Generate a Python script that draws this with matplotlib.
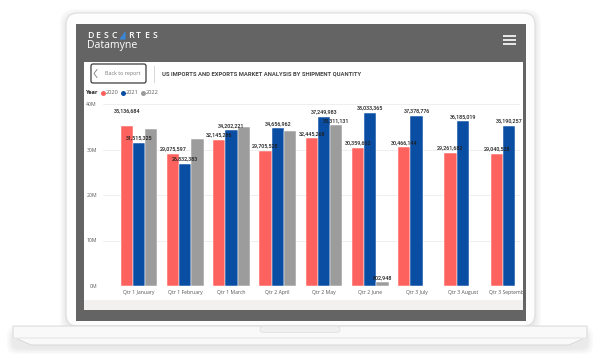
import matplotlib
matplotlib.use("Agg")
import numpy as np
import matplotlib.pyplot as plt
from matplotlib.patches import FancyBboxPatch, Rectangle, Polygon

# --- chart data -------------------------------------------------------------
categories = ["Qtr 1 January", "Qtr 1 February", "Qtr 1 March", "Qtr 2 April",
              "Qtr 2 May", "Qtr 2 June", "Qtr 3 July", "Qtr 3 August",
              "Qtr 3 September"]
years = ["2020", "2021", "2022"]
qty_2020 = [35136684, 29075597, 32145286, 29705528, 32445268, 30359602,
            30466144, 29261682, 29040538]
qty_2021 = [31515325, 26832383, 34202221, 34656962, 37249983, 38033365,
            37378776, 36185019, 35190257]
qty_2022 = [34600000, 32400000, 34900000, 34100000, 35311131, 802948,
            np.nan, np.nan, np.nan]
# which 2022 values carry a data label in the report
label_2022 = [False, False, False, False, True, True, False, False, False]
y_ticks = [0, 10e6, 20e6, 30e6, 40e6]

colors = ["#FD625E", "#0A4EA3", "#9C9C9C"]
FONT = ["Open Sans", "DejaVu Sans"]
NUMFONT = ["Roboto", "DejaVu Sans"]

W, H = 600, 363
fig = plt.figure(figsize=(W / 100, H / 100), dpi=100)
fig.patch.set_facecolor("white")

# pixel-space canvas for the laptop mockup
bg = fig.add_axes([0, 0, 1, 1], zorder=0)
bg.set_xlim(0, W)
bg.set_ylim(H, 0)
bg.axis("off")

# soft shadow around the lid and base
for i, a in enumerate([0.018, 0.018, 0.02, 0.025]):
    g = 6 - i * 1.5
    bg.add_patch(FancyBboxPatch((66 - g, 13 - g + 2), 469 + 2 * g, 313 + 2 * g,
                                boxstyle="round,pad=0,rounding_size=14",
                                fc="black", ec="none", alpha=a))
    bg.add_patch(FancyBboxPatch((13 - g, 330 - g + 3), 574 + 2 * g, 15 + 2 * g,
                                boxstyle="round,pad=0,rounding_size=8",
                                fc="black", ec="none", alpha=a))

# lid / bezel
bg.add_patch(FancyBboxPatch((66, 13), 469, 313,
                            boxstyle="round,pad=0,rounding_size=12",
                            fc="#FDFDFD", ec="#DEDEDE", lw=0.8))
# base
bg.add_patch(Polygon([(13, 326), (587, 326), (587, 337), (569, 345),
                      (31, 345), (13, 337)], closed=True,
                     fc="#F9F9F9", ec="#D8D8D8", lw=0.7))
bg.plot([14, 586], [338, 338], color="#ECECEC", lw=1.2)
bg.add_patch(FancyBboxPatch((260, 326), 80, 6.5,
                            boxstyle="round,pad=0,rounding_size=3",
                            fc="#F0F0F0", ec="#E2E2E2", lw=0.6))

# screen
bg.add_patch(Rectangle((76, 24), 450, 297, fc="#646464", ec="none"))
bg.add_patch(Rectangle((84, 62), 439, 238, fc="white", ec="none"))
bg.add_patch(Rectangle((84, 300), 439, 10, fc="#F2F1F0", ec="none"))

# header logo
letters = "DESC RTES"
for i, ch in enumerate(letters):
    x = 87 + i * 8.2
    if ch == " ":
        bg.add_patch(Polygon([(x - 0.5, 39.5), (x + 5.2, 31.5), (x + 5.8, 31.5),
                              (x + 5.8, 39.5)], closed=True, fc="#3A86D6",
                             ec="none"))
    else:
        bg.text(x, 35.6, ch, color="white", fontsize=6.3, family=FONT,
                weight="semibold", ha="left", va="center")
bg.text(86.5, 45.5, "Datamyne", color="white", fontsize=7.6, family=FONT,
        ha="left", va="center")
for yy in (35.5, 39.5, 43.5):
    bg.plot([503, 516], [yy, yy], color="white", lw=1.2,
            solid_capstyle="butt")

# back button, separator and title
bg.add_patch(FancyBboxPatch((91, 64), 55, 19,
                            boxstyle="round,pad=0,rounding_size=2",
                            fc="white", ec="#3C3C3C", lw=0.9))
bg.plot([97, 94, 97], [69.5, 73.5, 77.5], color="#7A7A7A", lw=0.6)
bg.text(105, 74, "Back to report", color="#7A7A7A", fontsize=3.9,
        family=FONT, ha="left", va="center")
bg.plot([154, 154], [66, 82], color="#D2D2D2", lw=0.6)
bg.text(162, 74.3, "US IMPORTS AND EXPORTS MARKET ANALYSIS BY SHIPMENT QUANTITY",
        color="#444444", fontsize=4.2, weight="bold", family=NUMFONT,
        ha="left", va="center")

# legend
bg.text(86, 93, "Year", color="#252423", fontsize=4.1, weight="bold",
        family=FONT, ha="left", va="center")
for i, (yr, c) in enumerate(zip(years, colors)):
    cx = 102.7 + i * 20
    bg.plot([cx], [93], marker="o", ms=3.6, color=c, mec="none")
    bg.text(cx + 3.2, 93, yr, color="#605E5C", fontsize=4.1, family=FONT,
            ha="left", va="center")

# --- the chart --------------------------------------------------------------
ax = fig.add_axes([103 / W, (H - 286) / H, 417 / W, 182 / H], zorder=1)
ax.set_facecolor("none")
x = np.arange(len(categories))
bw = 0.266
series = [qty_2020, qty_2021, qty_2022]
for k, (vals, c) in enumerate(zip(series, colors)):
    vals = np.array(vals, dtype=float)
    ax.bar(x + (k - 1) * bw, np.nan_to_num(vals), width=bw, color=c,
           edgecolor="white", linewidth=0.35, zorder=2)

# data labels (Power BI lifts the Jan 2020 label to avoid a collision)
lift = {(0, 0): 7.5}
for k, vals in enumerate(series):
    for i, v in enumerate(vals):
        if np.isnan(v) or (k == 2 and not label_2022[i]):
            continue
        ax.annotate(f"{int(v):,}", (x[i] + (k - 1) * bw, v),
                    xytext=(0, 1.6 + lift.get((k, i), 0)),
                    textcoords="offset points", ha="center", va="bottom",
                    fontsize=3.9, color="#1E1E1E", family=NUMFONT,
                    weight="medium", zorder=4)

ax.set_xlim(-0.778, 8.238)
ax.set_ylim(0, 40e6)
ax.set_yticks(y_ticks)
ax.set_yticklabels([f"{int(t / 1e6)}M" for t in y_ticks])
ax.set_xticks(x)
ax.set_xticklabels(categories)
ax.yaxis.grid(True, color="#EDEDED", lw=0.6)
ax.set_axisbelow(True)
for s in ax.spines.values():
    s.set_visible(False)
ax.tick_params(axis="both", length=0, labelsize=3.7, colors="#555555")
ax.tick_params(axis="y", pad=4.3)
ax.tick_params(axis="x", pad=2.6)
for lbl in ax.get_xticklabels() + ax.get_yticklabels():
    lbl.set_family(FONT)

# cover the part of the report that runs past the screen edge
fg = fig.add_axes([0, 0, 1, 1], zorder=5)
fg.set_xlim(0, W)
fg.set_ylim(H, 0)
fg.axis("off")
fg.patch.set_alpha(0)
fg.add_patch(Rectangle((523, 286), 3, 14, fc="#646464", ec="none"))
fg.add_patch(Rectangle((526, 286), 8, 14, fc="#FDFDFD", ec="none"))

fig.savefig("out.png", dpi=100)
